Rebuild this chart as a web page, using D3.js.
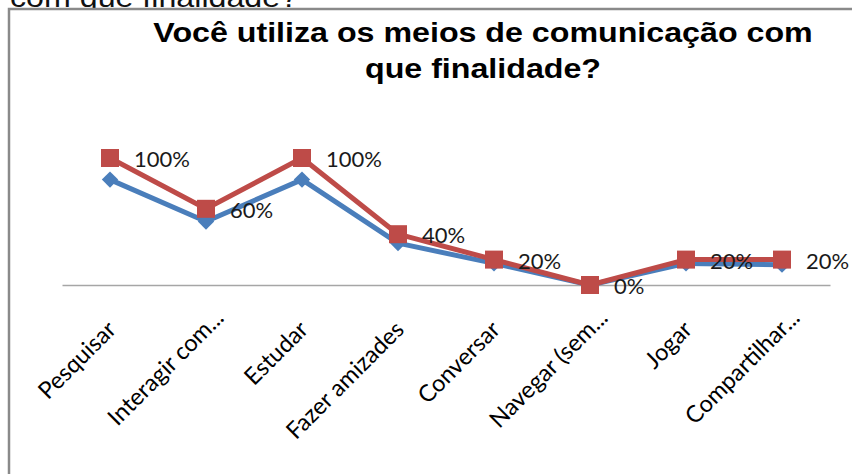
<!DOCTYPE html>
<html>
<head>
<meta charset="utf-8">
<script src="https://cdn.jsdelivr.net/npm/d3@7"></script>
<style>
  html, body { margin: 0; padding: 0; background: #fff; }
  svg { display: block; }
</style>
</head>
<body>
<svg id="chart" width="852" height="474"></svg>
<script>
// Categories (purposes) and the two plotted series, in percent
const categories = ["Pesquisar", "Interagir com...", "Estudar", "Fazer amizades", "Conversar", "Navegar (sem...", "Jogar", "Compartilhar..."];
const seriesBlue = [83, 50, 83, 33, 17, 0, 17, 16];
const seriesRed = [100, 60, 100, 40, 20, 0, 20, 20];
const redLabels = ["100%", "60%", "100%", "40%", "20%", "0%", "20%", "20%"];
const titleLines = ["Você utiliza os meios de comunicação com", "que finalidade?"];
const headerText = "com que finalidade?";

const svg = d3.select("#chart");
const W = 852, H = 474;

// text from the page above the chart frame, cut off at the top edge
svg.append("g").attr("transform", "translate(10,7) scale(1.15,1)")
  .append("text")
  .attr("font-family", "Liberation Sans, Arial, sans-serif")
  .attr("font-size", 28)
  .attr("fill", "#111")
  .text(headerText);

// chart frame
svg.append("rect")
  .attr("x", 9).attr("y", 9)
  .attr("width", W + 20).attr("height", H + 20)
  .attr("fill", "#fff")
  .attr("stroke", "#8a8a8a")
  .attr("stroke-width", 2.5);

// title (wide bold sans, two centred lines)
const title = svg.append("g").attr("transform", "translate(483,0) scale(1.15,1)")
  .append("text")
  .attr("text-anchor", "middle")
  .attr("font-family", "Liberation Sans, Arial, sans-serif")
  .attr("font-weight", "bold")
  .attr("font-size", 28)
  .attr("fill", "#000");
titleLines.forEach((t, i) => {
  title.append("tspan").attr("x", 0).attr("y", 42 + i * 36).text(t);
});

// scales
const x = d3.scalePoint().domain(categories).range([62, 830]).padding(0.5);
const y = d3.scaleLinear().domain([0, 100]).range([285, 158]);

// category axis
const xAxis = d3.axisBottom(x).tickSize(0).tickPadding(0);
const gx = svg.append("g").attr("transform", `translate(0,${y(0)})`).call(xAxis);
gx.select(".domain").attr("stroke", "#a6a6a6").attr("stroke-width", 1.5);
gx.selectAll(".tick text")
  .attr("font-family", "Lato, sans-serif")
  .attr("font-size", 23.5)
  .attr("fill", "#000")
  .attr("text-anchor", "end")
  .attr("dy", null)
  .attr("y", null)
  .each(function (d) {
    // truncated labels let their trailing dots run past the anchor point
    const el = this;
    let shift = 0;
    if (d.endsWith("...")) {
      const n = d.length;
      shift = el.getSubStringLength(n - 3, 3);
    }
    d3.select(el).attr("transform", `translate(7,46) rotate(-45) translate(${shift},0)`);
  });

const line = d3.line().x((d, i) => x(categories[i])).y(d => y(d));

// blue series with diamond markers
svg.append("path").datum(seriesBlue)
  .attr("d", line).attr("fill", "none")
  .attr("stroke", "#4a7ebb").attr("stroke-width", 5).attr("stroke-linejoin", "round");
svg.selectAll(".blue-pt").data(seriesBlue).join("path")
  .attr("class", "blue-pt")
  .attr("d", d3.symbol(d3.symbolDiamond2, 170)())
  .attr("transform", (d, i) => `translate(${x(categories[i])},${y(d)})`)
  .attr("fill", "#4a7ebb");

// red series with square markers
svg.append("path").datum(seriesRed)
  .attr("d", line).attr("fill", "none")
  .attr("stroke", "#be4b48").attr("stroke-width", 5).attr("stroke-linejoin", "round");
svg.selectAll(".red-pt").data(seriesRed).join("rect")
  .attr("class", "red-pt")
  .attr("x", (d, i) => x(categories[i]) - 9)
  .attr("y", d => y(d) - 9)
  .attr("width", 18).attr("height", 18)
  .attr("fill", "#be4b48");

// value labels right of the red markers
svg.selectAll(".val").data(seriesRed).join("text")
  .attr("class", "val")
  .attr("x", (d, i) => x(categories[i]) + 24)
  .attr("y", d => y(d) + 9)
  .attr("font-family", "Lato, sans-serif")
  .attr("font-size", 22)
  .attr("fill", "#1a1a1a")
  .text((d, i) => redLabels[i]);
</script>
</body>
</html>
